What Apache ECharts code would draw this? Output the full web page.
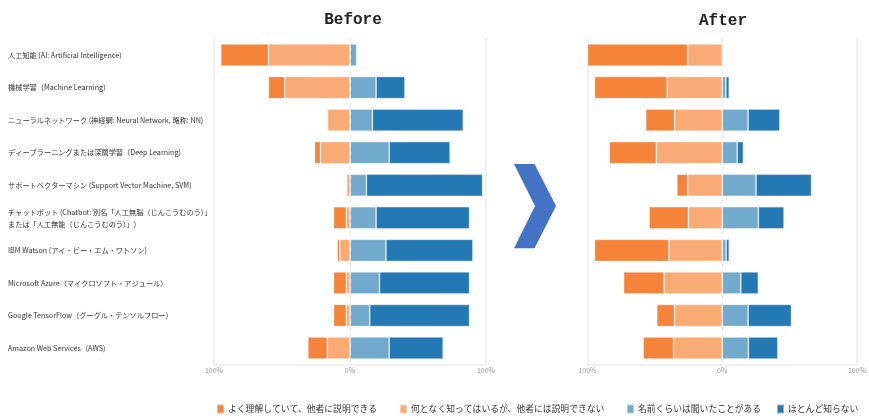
<!DOCTYPE html>
<html>
<head>
<meta charset="utf-8">
<script src="https://cdn.jsdelivr.net/npm/echarts@6/dist/echarts.min.js"></script>
<style>html,body{margin:0;padding:0;background:#fff;}#c{width:869px;height:416px;}</style>
</head>
<body>
<div id="c"></div>
<script>
var categories = [
  '人工知能 (AI: Artificial Intelligence)',
  '機械学習（Machine Learning)',
  'ニューラルネットワーク (神経網: Neural Network, 略称: NN)',
  'ディープラーニングまたは深層学習（Deep Learning)',
  'サポートベクターマシン (Support Vector Machine, SVM)',
  'チャットボット (Chatbot: 別名「人工無脳（じんこうむのう）」\nまたは「人工無能（じんこうむのう）」)',
  'IBM Watson (アイ・ビー・エム・ワトソン)',
  'Microsoft Azure（マイクロソフト・アジュール）',
  'Google TensorFlow（グーグル・テンソルフロー）',
  'Amazon Web Services（AWS)'
];
var seriesNames = ['よく理解していて、他者に説明できる', '何となく知ってはいるが、他者には説明できない', '名前くらいは聞いたことがある', 'ほとんど知らない'];
var tickLabels = ['100%', '0%', '100%'];

var beforeGood     = [35, 12, 0, 4.4, 0, 9.4, 2, 9.4, 9.4, 14.3];
var beforeSomewhat = [60, 48, 16.5, 21.7, 2.5, 2.7, 7.4, 2.7, 2.7, 16.7];
var beforeHeard    = [5, 19.2, 16.5, 28.8, 12.1, 19.2, 26.4, 21.7, 14.5, 28.8];
var beforeUnknown  = [0, 21.2, 66.8, 44.8, 85.4, 68.7, 64, 66.2, 73.4, 39.7];

var afterGood     = [74.4, 54, 21.4, 34.9, 8.1, 29.2, 55.2, 30, 13.2, 22.6];
var afterSomewhat = [25.6, 40.8, 35.4, 48.9, 25.6, 25.1, 39.6, 43.2, 35.4, 36.1];
var afterHeard    = [0, 2.7, 19.2, 11.1, 25.1, 26.8, 2.9, 13.8, 19.2, 19.4];
var afterUnknown  = [0, 2.5, 23.6, 4.6, 41.2, 19.1, 2.3, 13, 32.2, 21.9];

var colors = ['#f5833a', '#f9aa75', '#72aace', '#2479b5'];
var legendLefts = [216, 399, 626, 776];

function neg(a){ return a.map(function(v){ return -v; }); }

function xAxisFor(i){
  return {
    gridIndex: i, type: 'value', min: -100, max: 100, interval: 100,
    axisLine: {show: true, lineStyle: {color: '#ececec', width: 1.5}},
    axisTick: {show: false},
    splitLine: {show: true, lineStyle: {color: ['#ececec', 'rgba(0,0,0,0)', '#ececec'], width: 1.5}},
    axisLabel: {
      fontSize: 7, color: '#999', margin: 3,
      formatter: function(v){ return v < 0 ? tickLabels[0] : (v > 0 ? tickLabels[2] : tickLabels[1]); }
    }
  };
}
function yAxisFor(i, showLabels){
  return {
    gridIndex: i, type: 'category', data: categories, inverse: true,
    axisLine: {show: false}, axisTick: {show: false}, splitLine: {show: false},
    axisLabel: {
      show: showLabels, align: 'left', margin: 206, fontSize: 7.2, color: '#333',
      lineHeight: 12, fontFamily: 'Noto Sans CJK JP'
    }
  };
}
function barSeries(name, data, colorIdx, gi, withMark){
  var s = {
    name: name, type: 'bar', stack: 'g' + gi, xAxisIndex: gi, yAxisIndex: gi,
    data: data, barCategoryGap: '32%',
    itemStyle: {color: colors[colorIdx], borderColor: 'rgba(255,255,255,0.45)', borderWidth: 0.8},
    emphasis: {disabled: true}
  };
  if (withMark) {
    s.markLine = {
      silent: true, symbol: 'none', label: {show: false},
      lineStyle: {color: '#e6e6e6', type: [4, 4], width: 1.2},
      data: [{xAxis: 0}]
    };
  }
  return s;
}

var legends = seriesNames.map(function(n, i){
  return {
    data: [n], left: legendLefts[i], top: 403.5, padding: 0, itemGap: 0,
    itemWidth: 7, itemHeight: 9, icon: 'rect',
    textStyle: {fontSize: 8.8, color: '#333', fontFamily: 'Noto Sans CJK JP', padding: [0,0,0,-1]}
  };
});

var chart = echarts.init(document.getElementById('c'));
chart.setOption({
  animation: false,
  backgroundColor: '#fff',
  textStyle: {fontFamily: 'Noto Sans CJK JP'},
  title: [
    {text: 'Before', left: 348, top: 7, textAlign: 'center',
     textStyle: {fontFamily: 'Liberation Mono', fontWeight: 'bold', fontSize: 16, color: '#222'}},
    {text: 'After', left: 718, top: 8, textAlign: 'center',
     textStyle: {fontFamily: 'Liberation Mono', fontWeight: 'bold', fontSize: 16, color: '#222'}}
  ],
  grid: [
    {left: 214, width: 272, top: 38.7, height: 325.6},
    {left: 587.5, width: 272, top: 38.7, height: 325.6}
  ],
  xAxis: [xAxisFor(0), xAxisFor(1)],
  yAxis: [yAxisFor(0, true), yAxisFor(1, false)],
  legend: legends,
  graphic: [{
    type: 'polygon',
    shape: {points: [[514,164],[534.5,164],[556,206],[534.5,248.3],[514,248.3],[535,206]]},
    style: {fill: '#4472c4'}
  }],
  series: [
    barSeries(seriesNames[1], neg(beforeSomewhat), 1, 0, true),
    barSeries(seriesNames[0], neg(beforeGood), 0, 0, false),
    barSeries(seriesNames[2], beforeHeard, 2, 0, false),
    barSeries(seriesNames[3], beforeUnknown, 3, 0, false),
    barSeries(seriesNames[1], neg(afterSomewhat), 1, 1, true),
    barSeries(seriesNames[0], neg(afterGood), 0, 1, false),
    barSeries(seriesNames[2], afterHeard, 2, 1, false),
    barSeries(seriesNames[3], afterUnknown, 3, 1, false)
  ]
});
</script>
</body>
</html>
